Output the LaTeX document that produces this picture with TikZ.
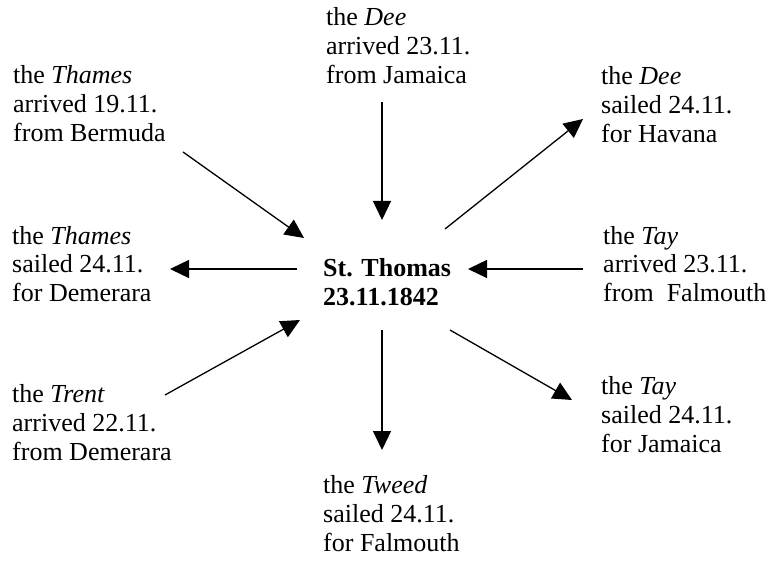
\documentclass[tikz,border=0pt]{standalone}
\usepackage{fontspec}
\setmainfont{Liberation Serif}
\usetikzlibrary{arrows.meta}
\tikzset{
  lbl/.style={anchor=base west, align=left, inner sep=0pt, font=\fontsize{26}{29}\selectfont},
  ctr/.style={anchor=base west, align=left, inner sep=0pt, font=\fontsize{26}{29}\selectfont\bfseries},
  arr/.style={line width=1.3pt, -{Triangle[length=19pt,width=18pt]}}
}
\begin{document}
\begin{tikzpicture}[x=1pt,y=-1pt]
\useasboundingbox (0,0) rectangle (774,561);
% base anchor = baseline of the last line
\node[ctr] (c) at (323,306) {St. Thomas\\23.11.1842};
\node[lbl] (top) at (326,84) {the \textit{Dee}\\arrived 23.11.\\from Jamaica};
\node[lbl] (ul) at (13,142) {the \textit{Thames}\\arrived 19.11.\\from Bermuda};
\node[lbl] (ur) at (601,143) {the \textit{Dee}\\sailed 24.11.\\for Havana};
\node[lbl] (ml) at (12,302) {the \textit{Thames}\\sailed 24.11.\\for Demerara};
\node[lbl] (mr) at (603,302) {the \textit{Tay}\\arrived 23.11.\\from\ \ Falmouth};
\node[lbl] (ll) at (12,460) {the \textit{Trent}\\arrived 22.11.\\from Demerara};
\node[lbl] (lr) at (601,452) {the \textit{Tay}\\sailed 24.11.\\for Jamaica};
\node[lbl] (bot) at (323,551) {the \textit{Tweed}\\sailed 24.11.\\for Falmouth};
\coordinate (t1) at (382,102); \coordinate (h1) at (382,220);
\coordinate (t2) at (183,152); \coordinate (h2) at (304,238);
\coordinate (t3) at (445,229); \coordinate (h3) at (583,119);
\coordinate (t4) at (297,269); \coordinate (h4) at (170,269);
\coordinate (t5) at (583,269); \coordinate (h5) at (468,269);
\coordinate (t6) at (165,395); \coordinate (h6) at (300,320);
\coordinate (t7) at (382,330); \coordinate (h7) at (382,450);
\coordinate (t8) at (450,330); \coordinate (h8) at (572,400);
\foreach \i in {1,...,8} \draw[arr] (t\i) -- (h\i);
\end{tikzpicture}
\end{document}
